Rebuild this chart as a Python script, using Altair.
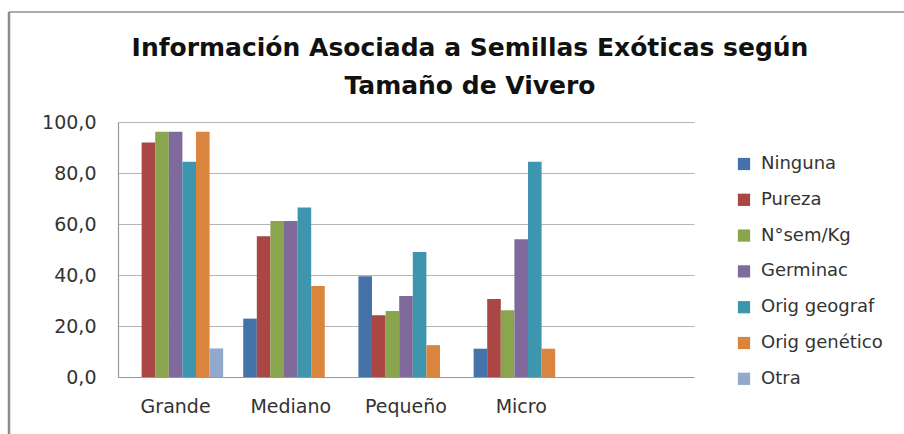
import altair as alt
import pandas as pd

categories = ["Grande", "Mediano", "Pequeño", "Micro"]
slots = ["Grande", "Mediano", "Pequeño", "Micro", " "]
series = ["Ninguna", "Pureza", "N°sem/Kg", "Germinac", "Orig geograf", "Orig genético", "Otra"]
colors = ["#4572A7", "#AA4643", "#89A54E", "#80699B", "#3D96AE", "#DB843D", "#92A8CD"]

ninguna = [0.0, 22.9, 39.5, 11.1]
pureza = [92.0, 55.2, 24.2, 30.6]
nsem = [96.2, 61.2, 25.9, 26.2]
germinac = [96.2, 61.2, 31.8, 54.0]
orig_geograf = [84.4, 66.5, 49.0, 84.4]
orig_genetico = [96.2, 35.7, 12.5, 11.1]
otra = [11.2, 0.0, 0.0, 0.0]

values = [ninguna, pureza, nsem, germinac, orig_geograf, orig_genetico, otra]
rows = []
for s, vals in zip(series, values):
    for c, v in zip(categories, vals):
        rows.append({"Tamaño": c, "Serie": s, "Valor": v})
df = pd.DataFrame(rows)

FONT = "DejaVu Sans"
W, H = 576, 255

bars = alt.Chart(df).mark_bar().encode(
    x=alt.X("Tamaño:N",
            scale=alt.Scale(domain=slots, paddingInner=0.174, paddingOuter=0.087),
            axis=alt.Axis(title=None, labelAngle=0, labelFontSize=19, labelFont=FONT,
                          labelColor="#333333", ticks=False, labelPadding=20,
                          domainColor="#999999", domainWidth=1.2)),
    xOffset=alt.XOffset("Serie:N", scale=alt.Scale(domain=series, paddingInner=0, paddingOuter=0)),
    y=alt.Y("Valor:Q",
            scale=alt.Scale(domain=[0, 100]),
            axis=alt.Axis(title=None, values=[0, 20, 40, 60, 80, 100],
                          labelExpr="replace(format(datum.value, '.1f'), '.', ',')",
                          labelFontSize=19, labelFont=FONT, labelColor="#333333",
                          ticks=False, labelPadding=22, gridColor="#b5b5b5", gridWidth=1.2,
                          domainColor="#999999", domainWidth=1.2)),
    color=alt.Color("Serie:N", scale=alt.Scale(domain=series, range=colors),
                    legend=alt.Legend(title=None, orient="none", legendX=617, legendY=33,
                                      symbolType="square", symbolSize=150, symbolStrokeWidth=0,
                                      labelFontSize=18, labelFont=FONT, labelColor="#333333",
                                      rowPadding=17.8, labelOffset=8)),
)

frame_data = alt.Data(values=[{}])
left_line = alt.Chart(frame_data).mark_rule(color="#8c8c8c", strokeWidth=2.5).encode(
    x=alt.value(-109), y=alt.value(-110), y2=alt.value(H + 80))
top_line = alt.Chart(frame_data).mark_rule(color="#8c8c8c", strokeWidth=1.5).encode(
    x=alt.value(-109), x2=alt.value(W + 260), y=alt.value(-110))

chart = alt.layer(bars, left_line, top_line).properties(
    width=W, height=H,
    title=alt.TitleParams(
        text=["Información Asociada a Semillas Exóticas según", "Tamaño de Vivero"],
        font=FONT, fontSize=25, fontWeight="bold", color="#111111",
        anchor="middle", frame="group", dx=64, offset=22, dy=110, lineHeight=38),
    autosize=alt.AutoSizeParams(type="none"),
    padding={"left": 118, "top": 122, "right": 210, "bottom": 57},
    background="white",
).configure_view(stroke=None)

chart.save("out.html", embed_options={"renderer": "svg", "actions": False})
